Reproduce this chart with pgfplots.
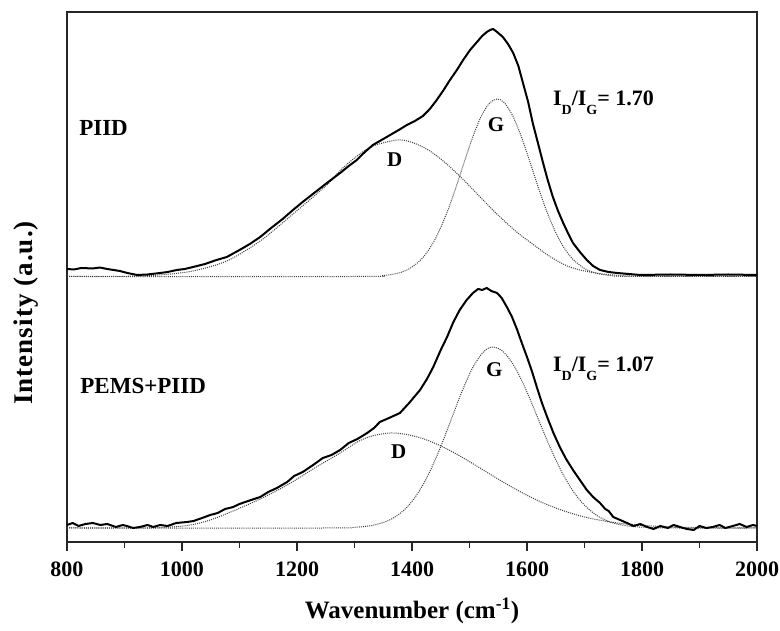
\documentclass[border=0pt]{standalone}
\usepackage{fontspec}
\setmainfont{Liberation Serif}
\usepackage{pgfplots}
\pgfplotsset{compat=1.18}
\newcommand{\sub}[1]{\raisebox{-9pt}{\fontsize{14}{14}\selectfont #1}}
\begin{document}
\begin{tikzpicture}
\begin{axis}[
  name=ax,
  scale only axis, width=690pt, height=530pt,
  xmin=800, xmax=2000, ymin=0, ymax=530,
  axis line style={line width=1.4pt, black!85},
  xtick={800,1000,...,2000},
  minor xtick={900,1100,...,1900},
  ytick=\empty,
  tick align=outside,
  major tick length=9pt, minor tick length=6pt,
  every tick/.style={line width=1.3pt, black!85},
  xtick pos=bottom,
  /pgf/number format/assume math mode=true,
  /pgf/number format/set thousands separator={},
  xticklabel style={font=\fontsize{22}{22}\selectfont\bfseries, anchor=center, yshift=-18pt},
  xlabel={Wavenumber (cm\textsuperscript{-1})},
  ylabel={Intensity (a.u.)},
  every axis x label/.style={at={(axis description cs:0.5,-0.1302)}, anchor=center, font=\fontsize{25}{25}\selectfont\bfseries},
  every axis y label/.style={at={(axis description cs:-0.0594,0.432)}, anchor=center, rotate=90, font=\fontsize{27}{27}\selectfont\bfseries\addfontfeature{LetterSpace=4}},
  fit/.style={black!75, line width=1pt, dash pattern=on 1pt off 1.1pt, smooth, tension=0.5},
  data/.style={black, line width=2pt, line join=round},
  clip=false,
]
\coordinate (sw) at (rel axis cs:0,0);
\coordinate (ne) at (rel axis cs:1,1);
% ---------- PIID fits ----------
\addplot[fit] coordinates {(800,265.5) (900,265.7) (960,267) (1019,271) (1078,281) (1136,301) (1193,328) (1252,357) (1275,371.4) (1304,385.8) (1332,395.9) (1374,402) (1400,399.6) (1430,391.4) (1460,378.2) (1490,361.9) (1520,344.1) (1550,326.7) (1580,311) (1610,297.8) (1640,285.5) (1670,276) (1700,271) (1740,267.5) (1780,266) (1830,265.6) (2000,265.5)};
\addplot[fit] coordinates {(800,265.5) (1300,265.5) (1350,266.4) (1380,269.5) (1400,274.9) (1420,285.1) (1440,302.5) (1460,328.2) (1475,352.2) (1490,378.4) (1505,403.9) (1520,425.3) (1535,439) (1548,443) (1560,439.6) (1575,426.4) (1590,405.5) (1605,380.2) (1620,354) (1635,329.7) (1650,309.4) (1665,293.7) (1680,282.6) (1700,273.5) (1720,268.8) (1745,266.5) (1780,265.6) (2000,265.5)};
% ---------- PIID data ----------
\addplot[data] coordinates {(800,273) (812,272.5) (825,274) (845,273.5) (857,274.5) (870,273) (892,271) (905,269) (922,267) (940,267.5) (962,269) (975,270) (991,272) (1005,273) (1019,275) (1040,278) (1060,282) (1078,285) (1100,292) (1118,298) (1136,305) (1155,314) (1175,323) (1193,332) (1212,341) (1232,350) (1252,359) (1275,369) (1290,376) (1304,382) (1318,390) (1332,397) (1347,402) (1362,407) (1377,412) (1391,417) (1405,421) (1419,426) (1431,433) (1443,442) (1455,452) (1466,462) (1478,472) (1489,482) (1501,492) (1513,500) (1522,506) (1530,510) (1536,512) (1541,513) (1548,510) (1558,505) (1567,498) (1576,489) (1585,476) (1593,459) (1602,440) (1610,419) (1619,399) (1628,379) (1636,362) (1645,345) (1654,331) (1663,319) (1672,308) (1680,299) (1692,290) (1704,282) (1715,276) (1727,272) (1742,270) (1757,269) (1777,268) (1797,267) (1850,267.5) (1901,267) (1950,267.5) (2000,267)};
% ---------- PEMS+PIID fits ----------
\addplot[fit] coordinates {(800,14) (950,14.3) (1009,16.5) (1049,22) (1089,31) (1136,43) (1183,57) (1228,73) (1275,89) (1305,100) (1330,106) (1362,109) (1390,107.6) (1420,103.2) (1450,96.1) (1480,87.1) (1510,76.9) (1540,66.3) (1570,56.1) (1600,46.7) (1630,38.6) (1660,31.9) (1690,26.5) (1720,22.5) (1760,18.8) (1800,16.6) (1850,15.1) (1900,14.4) (2000,14)};
\addplot[fit] coordinates {(800,14) (1250,14) (1300,14.7) (1330,16.5) (1360,21.7) (1385,31.3) (1405,44.4) (1425,63.4) (1445,88.4) (1465,117.7) (1485,147.8) (1505,173.7) (1525,190.6) (1541,195) (1560,189.7) (1580,173.7) (1600,150) (1620,122.4) (1640,94.9) (1660,70.5) (1680,51) (1700,36.7) (1725,25.2) (1750,19) (1780,15.7) (1820,14.3) (1860,14) (2000,14)};
% ---------- PEMS+PIID data ----------
\addplot[data] coordinates {(800,17) (810,19) (820,16) (832,18) (845,19) (858,17) (870,18) (885,15) (897,17) (904,16) (915,14) (927,15) (940,17) (950,15) (962,17) (975,16) (990,19) (1009,20) (1020,21) (1035,24) (1049,27) (1062,29) (1075,33) (1089,35) (1100,38) (1115,41) (1136,45) (1150,50) (1165,54) (1183,60) (1195,66) (1210,70) (1228,77) (1245,84) (1260,87) (1275,92) (1290,99) (1305,103) (1322,109) (1334,114) (1344,120) (1360,124) (1379,129) (1395,139) (1414,152) (1426,163) (1437,175) (1450,192) (1461,205) (1472,220) (1483,232) (1495,242) (1506,249) (1515,253) (1522,252) (1530,254) (1538,251) (1548,249) (1556,244) (1565,235) (1574,225) (1583,212) (1591,199) (1600,185) (1609,170) (1617,155) (1626,139) (1635,125) (1646,109) (1657,95) (1668,83) (1680,72) (1692,62) (1704,52) (1715,45) (1727,39) (1736,33) (1742,31) (1750,25) (1762,22) (1774,19) (1785,16) (1797,18) (1809,15) (1820,13) (1832,16) (1845,14) (1855,17) (1866,15) (1878,13) (1890,12) (1900,16) (1912,14) (1923,15) (1935,17) (1945,14) (1958,16) (1970,18) (1982,15) (1993,17) (2000,16)};
% ---------- labels ----------
\node[anchor=base west, font=\fontsize{23}{23}\selectfont\bfseries, inner sep=0pt] at (axis cs:821,406) {PIID};
\node[anchor=base west, font=\fontsize{23}{23}\selectfont\bfseries, inner sep=0pt] at (axis cs:823,148) {PEMS+PIID};
\node[anchor=base, font=\fontsize{21}{21}\selectfont\bfseries, inner sep=0pt] at (axis cs:1370,375) {D};
\node[anchor=base, font=\fontsize{21}{21}\selectfont\bfseries, inner sep=0pt] at (axis cs:1546,410) {G};
\node[anchor=base, font=\fontsize{21}{21}\selectfont\bfseries, inner sep=0pt] at (axis cs:1543,165) {G};
\node[anchor=base, font=\fontsize{21}{21}\selectfont\bfseries, inner sep=0pt] at (axis cs:1377,83) {D};
\node[anchor=base west, font=\fontsize{22}{22}\selectfont\bfseries, inner sep=0pt] at (axis cs:1645,436) {I\sub{D}/I\sub{G}= 1.70};
\node[anchor=base west, font=\fontsize{22}{22}\selectfont\bfseries, inner sep=0pt] at (axis cs:1645,170) {I\sub{D}/I\sub{G}= 1.07};
\end{axis}
\pgfresetboundingbox
\path ([shift={(-67pt,-89pt)}]sw) rectangle ([shift={(23pt,12pt)}]ne);
\end{tikzpicture}
\end{document}
